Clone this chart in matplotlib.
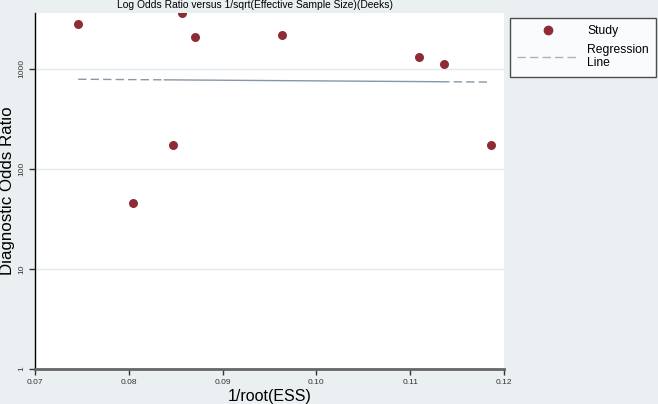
import matplotlib
matplotlib.use("Agg")
import matplotlib.pyplot as plt
import numpy as np
from matplotlib.lines import Line2D

plt.rcParams['font.family'] = ['Liberation Sans', 'DejaVu Sans']

# Data
ess_inv = [0.0746, 0.0857, 0.0871, 0.0963, 0.0847, 0.0805, 0.1109, 0.1136, 0.1186]
dor = [2820, 3600, 2080, 2190, 173, 45.4, 1320, 1115, 174]
reg_x = [0.0746, 0.1186]
reg_y = [790, 740]

x_ticks = [0.07, 0.08, 0.09, 0.10, 0.11, 0.12]
x_ticklabels = ["0.07", "0.08", "0.09", "0.10", "0.11", "0.12"]
y_ticks = [1, 10, 100, 1000]
y_ticklabels = ["1", "10", "100", "1000"]

bg = '#eaf0f2'
marker_col = '#8e2c36'
line_col = '#8797a8'

fig = plt.figure(figsize=(6.58, 4.04), dpi=100, facecolor=bg)
W, H = 658, 404
ax = fig.add_axes([35/W, 1 - 369/H, (504-35)/W, (369-13)/H])
ax.set_facecolor('white')
ax.set_yscale('log')
ax.set_xlim(0.07, 0.12)
ax.set_ylim(1, 10**3.56)

for yt in [10, 100, 1000]:
    ax.axhline(yt, color='#e3eaee', lw=1.0, zorder=0)

# regression line: dashed ends, solid middle (as rendered)
lx = np.array(reg_x)
ly = np.log10(reg_y)
def f(x):
    return 10 ** np.interp(x, lx, ly)
b1, b2 = 0.0838, 0.1133
xs1 = np.linspace(lx[0], b1, 10)
xs2 = np.linspace(b1, b2, 10)
xs3 = np.linspace(b2, lx[1], 10)
ax.plot(xs1, f(xs1), color=line_col, lw=1.0, dashes=(6, 3), zorder=2)
ax.plot(xs2, f(xs2), color=line_col, lw=1.0, zorder=2)
ax.plot(xs3, f(xs3), color=line_col, lw=1.0, dashes=(6, 3), zorder=2)

ax.scatter(ess_inv, dor, s=42, color=marker_col, zorder=3, linewidths=0)

ax.set_xticks(x_ticks)
ax.set_xticklabels(x_ticklabels, fontsize=6, color='#333333')
ax.set_yticks(y_ticks)
ax.set_yticklabels(y_ticklabels, fontsize=6, color='#333333', rotation=90, va='center')
ax.yaxis.set_minor_locator(matplotlib.ticker.NullLocator())
ax.tick_params(axis='both', length=4, width=1, color='#333333', pad=3)

for s in ['top', 'right']:
    ax.spines[s].set_visible(False)
ax.spines['left'].set_color('black')
ax.spines['left'].set_linewidth(1.0)
ax.spines['bottom'].set_color('#666666')
ax.spines['bottom'].set_linewidth(2.0)

ax.set_xlabel("1/root(ESS)", fontsize=11.5, labelpad=2)
ax.set_ylabel("Diagnostic Odds Ratio", fontsize=12.2, labelpad=2)
fig.text(255/W, 1 - 5/H, "Log Odds Ratio versus 1/sqrt(Effective Sample Size)(Deeks)",
         fontsize=7.4, ha='center', va='center')

handles = [Line2D([], [], marker='o', ls='none', color=marker_col, markersize=6),
           Line2D([], [], color='#a9b3bb', lw=1.0, dashes=(6, 3))]
leg = fig.legend(handles, ["Study", "Regression\nLine"], loc='upper left',
                 bbox_to_anchor=(510/W, 1 - 18/H), fontsize=8.7, frameon=True,
                 fancybox=False, edgecolor='#222222', handlelength=5.05,
                 handletextpad=0.75, borderpad=0.6, labelspacing=0.6,
                 borderaxespad=0)
for t in leg.get_texts():
    t.set_linespacing(1.1)
leg.get_frame().set_linewidth(1.0)
leg.get_frame().set_facecolor('white')

fig.savefig("out.png", dpi=100, facecolor=bg)
